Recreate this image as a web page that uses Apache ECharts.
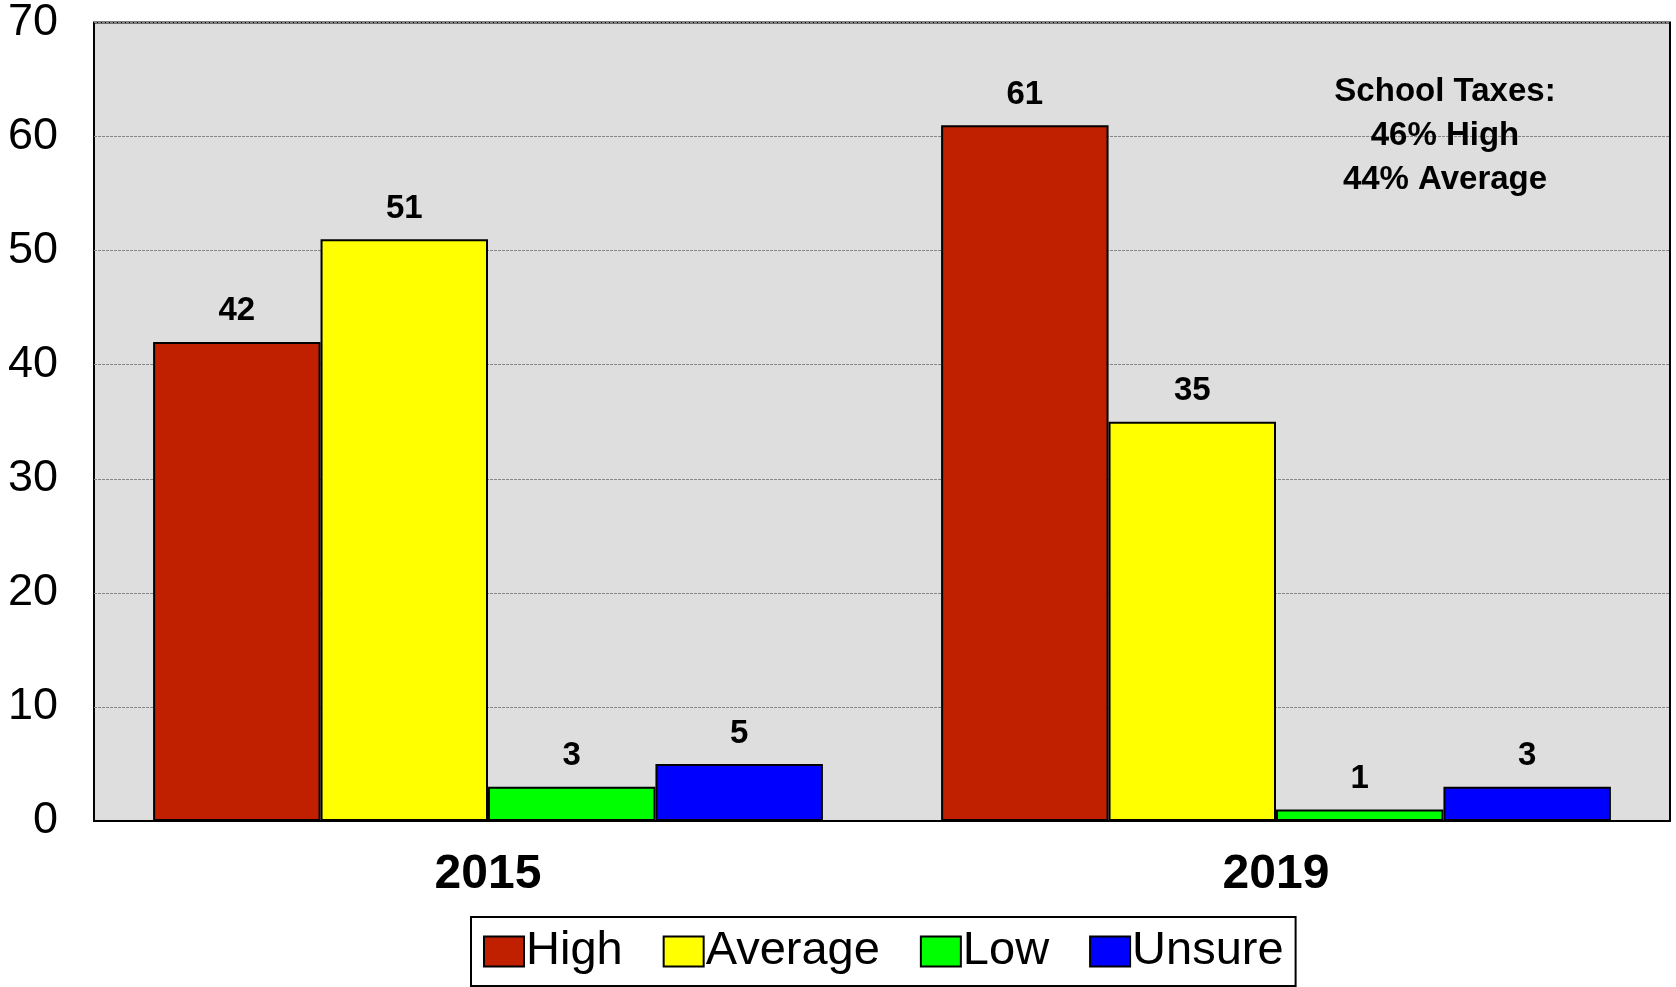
<!DOCTYPE html>
<html>
<head>
<meta charset="utf-8"/>
<title>School Taxes</title>
<script src="https://cdn.jsdelivr.net/npm/echarts@6/dist/echarts.min.js"></script>
<style>
  html, body { margin: 0; padding: 0; background: #fff; }
  #main { width: 1676px; height: 987px; }
</style>
</head>
<body>
<div id="main"></div>
<script>
// chart values
const years = ['2015', '2019']
const seriesNames = ['High', 'Average', 'Low', 'Unsure']
const high = [42, 61]
const average = [51, 35]
const low = [3, 1]
const unsure = [5, 3]
const yTicks = [0, 10, 20, 30, 40, 50, 60, 70]
const noteLines = ['School Taxes:', '46% High', '44% Average']

const colors = ['#C02000', '#FFFF00', '#00FF00', '#0000FF']
const narrow = '"Liberation Sans Narrow", "Arial Narrow", "Liberation Sans", Arial, sans-serif'

const myChart = echarts.init(document.getElementById('main'))

function makeSeries(name, data, i) {
    return {
        name: name,
        type: 'bar',
        data: data,
        barGap: '0%',
        barCategoryGap: '15%',
        itemStyle: {
            color: colors[i],
            borderColor: '#000',
            borderWidth: 2
        },
        label: {
            show: true,
            position: 'top',
            distance: 14,
            color: '#000',
            fontFamily: narrow,
            fontWeight: 'bold',
            fontSize: 33
        }
    }
}

const option = {
    animation: false,
    backgroundColor: '#fff',
    grid: {
        left: 94,
        right: 6,
        top: 20,
        bottom: 166,
        show: true,
        backgroundColor: '#DEDEDE',
        borderColor: '#000',
        borderWidth: 2
    },
    legend: {
        data: seriesNames,
        bottom: 1,
        left: 471,
        itemWidth: 40,
        itemHeight: 30,
        itemGap: 40,
        padding: [11, 12, 11, 12],
        borderColor: '#000',
        borderWidth: 2,
        icon: 'rect',
        itemStyle: { borderColor: '#000', borderWidth: 2 },
        textStyle: {
            fontFamily: narrow,
            fontSize: 47,
            color: '#000',
            padding: [0, 0, 0, -3]
        }
    },
    xAxis: {
        type: 'category',
        data: years,
        axisLine: { lineStyle: { color: '#000', width: 2 } },
        axisTick: { show: false },
        axisLabel: {
            margin: 30,
            color: '#000',
            fontFamily: narrow,
            fontWeight: 'bold',
            fontSize: 48
        }
    },
    yAxis: {
        type: 'value',
        min: yTicks[0],
        max: yTicks[yTicks.length - 1],
        interval: 10,
        axisLine: { show: false },
        axisTick: { show: false },
        axisLabel: {
            margin: 36,
            color: '#000',
            fontFamily: narrow,
            fontSize: 45
        },
        splitLine: {
            lineStyle: { color: '#888', width: 1, type: [3, 1] }
        }
    },
    graphic: [{
        type: 'text',
        x: 1445,
        y: 70,
        z: 100,
        style: {
            text: noteLines.join('\n'),
            align: 'center',
            fill: '#000',
            font: 'bold 33px ' + narrow,
            lineHeight: 44
        }
    }],
    series: [
        makeSeries(seriesNames[0], high, 0),
        makeSeries(seriesNames[1], average, 1),
        makeSeries(seriesNames[2], low, 2),
        makeSeries(seriesNames[3], unsure, 3)
    ]
}

myChart.setOption(option)
</script>
</body>
</html>
